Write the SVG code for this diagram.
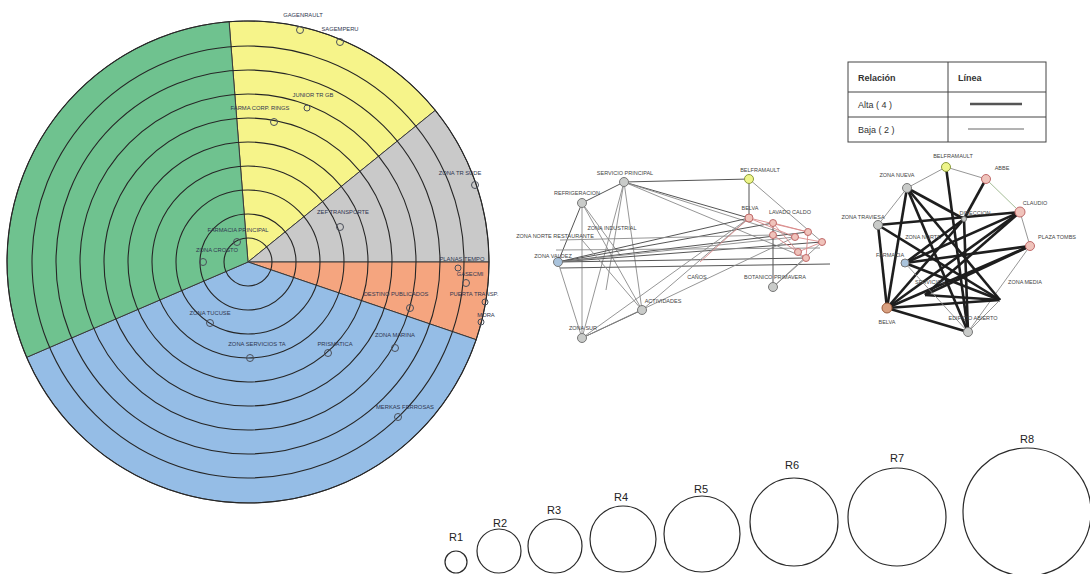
<svg xmlns="http://www.w3.org/2000/svg" width="1090" height="574" viewBox="0 0 1090 574">
<style>
text{font-family:"Liberation Sans",Arial,sans-serif}
.ring{fill:none;stroke:#262626;stroke-width:1.1}
.sl{stroke:#3a3a3a;stroke-width:1}
.pn{fill:none;stroke:#4a4f5a;stroke-width:1}
.pl{font-size:5.8px;fill:#2f3650}
.nl{font-size:5.5px;fill:#444}
.e{stroke:#8a8a8a;stroke-width:0.9;fill:none}
.ed{stroke:#555;stroke-width:1;fill:none}
.ep{stroke:#d98a8a;stroke-width:0.9;fill:none}
.et{stroke:#1e1e1e;stroke-width:2.6;fill:none}
.g{fill:#c9cbc9;stroke:#777;stroke-width:1}
.b{fill:#a9c3dc;stroke:#777;stroke-width:1}
.y{fill:#eef58a;stroke:#8a9a3a;stroke-width:1}
.p{fill:#f0c3bb;stroke:#c06a6a;stroke-width:1}
.o{fill:#d9a080;stroke:#9a5a3a;stroke-width:1}
.rc{fill:none;stroke:#2a2a2a;stroke-width:1.2}
.rl{font-size:11px;fill:#222}
.tb{fill:none;stroke:#444;stroke-width:1}
.tt{font-size:9px;fill:#333}
</style>

<g id="pie">
<path d="M248,262 L229.1,21.7 A241,241 0 0 1 435.3,110.3 Z" fill="#f6f48a" class="sl"/>
<path d="M248,262 L435.3,110.3 A241,241 0 0 1 489,262 Z" fill="#c9c9c9" class="sl"/>
<path d="M248,262 L489,262 A241,241 0 0 1 476.2,339.7 Z" fill="#f5a57f" class="sl"/>
<path d="M248,262 L476.2,339.7 A241,241 0 0 1 26.7,357.3 Z" fill="#95bde6" class="sl"/>
<path d="M248,262 L26.7,357.3 A241,241 0 0 1 229.1,21.7 Z" fill="#6fc28f" class="sl"/>
<circle cx="248" cy="262" r="24" class="ring"/>
<circle cx="248" cy="262" r="48" class="ring"/>
<circle cx="248" cy="262" r="72" class="ring"/>
<circle cx="248" cy="262" r="96" class="ring"/>
<circle cx="248" cy="262" r="120" class="ring"/>
<circle cx="248" cy="262" r="144" class="ring"/>
<circle cx="248" cy="262" r="168" class="ring"/>
<circle cx="248" cy="262" r="192" class="ring"/>
<circle cx="248" cy="262" r="216" class="ring"/>
<circle cx="248" cy="262" r="241" class="ring"/>
</g>

<g id="pie-nodes">
<circle cx="300" cy="30" r="3.5" class="pn"/><text x="303" y="17" class="pl" text-anchor="middle">GAGENRAULT</text>
<circle cx="340" cy="42" r="3.5" class="pn"/><text x="340" y="31" class="pl" text-anchor="middle">SAGEMPERU</text>
<circle cx="307" cy="108" r="3" class="pn"/><text x="313" y="97" class="pl" text-anchor="middle">JUNIOR TR GB</text>
<circle cx="274" cy="122" r="3.5" class="pn"/><text x="260" y="110" class="pl" text-anchor="middle">FARMA CORP. RINGS</text>
<circle cx="475" cy="185" r="3.5" class="pn"/><text x="460" y="175" class="pl" text-anchor="middle">ZONA TR SUDE</text>
<circle cx="340" cy="227" r="3.5" class="pn"/><text x="343" y="214" class="pl" text-anchor="middle">ZEF TRANSPORTE</text>
<circle cx="237" cy="242" r="3.5" class="pn"/><text x="238" y="232" class="pl" text-anchor="middle">FARMACIA PRINCIPAL</text>
<circle cx="203" cy="262" r="3.5" class="pn"/><text x="217" y="252" class="pl" text-anchor="middle">ZONA CROSTO</text>
<circle cx="458" cy="268" r="3" class="pn"/><text x="462" y="261" class="pl" text-anchor="middle">PLANAS TEMPO</text>
<circle cx="466" cy="283" r="3.5" class="pn"/><text x="470" y="276" class="pl" text-anchor="middle">GASECMI</text>
<circle cx="410" cy="308" r="3.5" class="pn"/><text x="396" y="296" class="pl" text-anchor="middle">DESTINO PUBLICADOS</text>
<circle cx="485" cy="302" r="3" class="pn"/><text x="474" y="296" class="pl" text-anchor="middle">PUERTA TRANSP.</text>
<circle cx="481" cy="322" r="3" class="pn"/><text x="486" y="317" class="pl" text-anchor="middle">MORA</text>
<circle cx="210" cy="323" r="3.5" class="pn"/><text x="210" y="315" class="pl" text-anchor="middle">ZONA TUCUSE</text>
<circle cx="250" cy="358" r="3.5" class="pn"/><text x="257" y="346" class="pl" text-anchor="middle">ZONA SERVICIOS TA</text>
<circle cx="328" cy="353" r="3.5" class="pn"/><text x="335" y="346" class="pl" text-anchor="middle">PRISMATICA</text>
<circle cx="395" cy="348" r="3.5" class="pn"/><text x="395" y="337" class="pl" text-anchor="middle">ZONA MARINA</text>
<circle cx="398" cy="417" r="3.5" class="pn"/><text x="405" y="409" class="pl" text-anchor="middle">MERKAS FERROSAS</text>
</g>

<g id="connectors-mid">
<line x1="624" y1="182" x2="749" y2="179" class="ed"/>
<line x1="749" y1="179" x2="749" y2="218" class="ed"/>
<line x1="749" y1="179" x2="822" y2="242" class="e"/>
<line x1="624" y1="182" x2="582" y2="203" class="ed"/>
<line x1="624" y1="182" x2="749" y2="218" class="ed"/>
<line x1="624" y1="182" x2="795" y2="237" class="e"/>
<line x1="624" y1="182" x2="806" y2="258" class="e"/>
<line x1="624" y1="182" x2="642" y2="310" class="e"/>
<line x1="624" y1="182" x2="606" y2="290" class="e"/>
<line x1="624" y1="182" x2="582" y2="338" class="e"/>
<line x1="582" y1="203" x2="558" y2="262" class="ed"/>
<line x1="582" y1="203" x2="582" y2="338" class="e"/>
<line x1="582" y1="203" x2="642" y2="310" class="e"/>
<line x1="582" y1="203" x2="620" y2="255" class="e"/>
<line x1="558" y1="262" x2="749" y2="218" class="ed"/>
<line x1="558" y1="262" x2="773" y2="223" class="ed"/>
<line x1="558" y1="262" x2="808" y2="232" class="ed"/>
<line x1="558" y1="262" x2="822" y2="242" class="ed"/>
<line x1="558" y1="262" x2="806" y2="258" class="ed"/>
<line x1="558" y1="262" x2="795" y2="237" class="e"/>
<line x1="560" y1="268" x2="830" y2="264" class="ed"/>
<line x1="556" y1="250" x2="820" y2="248" class="e"/>
<line x1="560" y1="240" x2="773" y2="235" class="e"/>
<line x1="558" y1="262" x2="582" y2="338" class="e"/>
<line x1="582" y1="338" x2="642" y2="310" class="ed"/>
<line x1="582" y1="338" x2="749" y2="218" class="e"/>
<line x1="582" y1="338" x2="795" y2="237" class="e"/>
<line x1="642" y1="310" x2="749" y2="218" class="e"/>
<line x1="642" y1="310" x2="582" y2="240" class="e"/>
<line x1="773" y1="287" x2="773" y2="223" class="ed"/>
<line x1="773" y1="287" x2="822" y2="242" class="e"/>
<line x1="773" y1="287" x2="806" y2="258" class="e"/>
<line x1="700" y1="262" x2="749" y2="218" class="ep"/>
<line x1="749" y1="218" x2="795" y2="237" class="ep"/>
<line x1="773" y1="223" x2="808" y2="232" class="ep"/>
<line x1="773" y1="223" x2="798" y2="252" class="ep"/>
<line x1="795" y1="237" x2="822" y2="242" class="ep"/>
<line x1="808" y1="232" x2="806" y2="258" class="ep"/>
<line x1="798" y1="252" x2="822" y2="242" class="ep"/>
<line x1="773" y1="235" x2="806" y2="258" class="ep"/>
<line x1="749" y1="218" x2="808" y2="232" class="ep"/>
</g>

<g id="nodes-mid">
<circle cx="624" cy="182" r="4.5" class="g"/><text x="625" y="175" class="nl" text-anchor="middle">SERVICIO PRINCIPAL</text>
<circle cx="749" cy="179" r="4.5" class="y"/><text x="760" y="172" class="nl" text-anchor="middle">BELFRAMAULT</text>
<circle cx="582" cy="203" r="4.5" class="g"/><text x="577" y="195" class="nl" text-anchor="middle">REFRIGERACION</text>
<circle cx="749" cy="218" r="4" class="p"/><text x="750" y="210" class="nl" text-anchor="middle">BELVA</text>
<circle cx="773" cy="223" r="3.5" class="p"/><text x="790" y="214" class="nl" text-anchor="middle">LAVADO  CALDO</text>
<circle cx="773" cy="235" r="3.5" class="p"/>
<circle cx="795" cy="237" r="3.5" class="p"/>
<circle cx="808" cy="232" r="3.5" class="p"/>
<circle cx="822" cy="242" r="3.5" class="p"/>
<circle cx="798" cy="252" r="3.5" class="p"/>
<circle cx="806" cy="258" r="3.5" class="p"/>
<circle cx="558" cy="262" r="4.5" class="b"/><text x="553" y="258" class="nl" text-anchor="middle">ZONA VALDEZ</text>
<text x="555" y="238" class="nl" text-anchor="middle">ZONA NORTE RESTAURANTE</text>
<text x="612" y="230" class="nl" text-anchor="middle">ZONA INDUSTRIAL</text>
<circle cx="642" cy="310" r="4.5" class="g"/><text x="663" y="303" class="nl" text-anchor="middle">ACTIVIDADES</text>
<circle cx="582" cy="338" r="4.5" class="g"/><text x="583" y="330" class="nl" text-anchor="middle">ZONA SUR</text>
<circle cx="773" cy="287" r="4.5" class="g"/><text x="775" y="279" class="nl" text-anchor="middle">BOTANICO PRIMAVERA</text>
<text x="697" y="279" class="nl" text-anchor="middle">CAÑOS</text>
</g>

<g id="connectors-right">
<line x1="946" y1="167" x2="986" y2="179" class="e"/>
<line x1="986" y1="179" x2="1020" y2="212" class="e" style="stroke:#9ab68a"/>
<line x1="1020" y1="212" x2="1030" y2="246" class="e"/>
<line x1="1030" y1="246" x2="968" y2="332" class="e"/>
<line x1="907" y1="188" x2="878" y2="225" class="e"/>
<line x1="907" y1="188" x2="946" y2="167" class="e"/>
<line x1="946" y1="167" x2="968" y2="332" class="et"/>
<line x1="907" y1="188" x2="964" y2="219" class="et"/>
<line x1="907" y1="188" x2="887" y2="308" class="et"/>
<line x1="907" y1="188" x2="968" y2="332" class="et"/>
<line x1="907" y1="188" x2="1000" y2="300" class="et"/>
<line x1="878" y1="225" x2="887" y2="308" class="et"/>
<line x1="878" y1="225" x2="1020" y2="212" class="et"/>
<line x1="878" y1="225" x2="1000" y2="300" class="et"/>
<line x1="986" y1="179" x2="964" y2="219" class="et"/>
<line x1="964" y1="219" x2="905" y2="263" class="et"/>
<line x1="964" y1="219" x2="968" y2="332" class="et"/>
<line x1="1020" y1="212" x2="887" y2="308" class="et"/>
<line x1="1020" y1="212" x2="905" y2="263" class="et"/>
<line x1="1020" y1="212" x2="925" y2="295" class="et"/>
<line x1="1030" y1="246" x2="887" y2="308" class="et"/>
<line x1="1030" y1="246" x2="905" y2="263" class="et"/>
<line x1="1030" y1="246" x2="925" y2="295" class="et"/>
<line x1="887" y1="308" x2="968" y2="332" class="et"/>
<line x1="887" y1="308" x2="1000" y2="300" class="et"/>
<line x1="905" y1="263" x2="1000" y2="300" class="et"/>
<line x1="887" y1="308" x2="964" y2="219" class="et"/>
<line x1="925" y1="295" x2="1000" y2="300" class="et"/>
<line x1="905" y1="263" x2="968" y2="332" class="e"/>
<line x1="1000" y1="300" x2="968" y2="332" class="e"/>
</g>

<g id="nodes-right">
<circle cx="946" cy="167" r="4.5" class="y"/><text x="953" y="158" class="nl" text-anchor="middle">BELFRAMAULT</text>
<circle cx="986" cy="179" r="4.5" class="p"/><text x="1002" y="170" class="nl" text-anchor="middle">ABBE</text>
<circle cx="907" cy="188" r="4.5" class="g"/><text x="897" y="177" class="nl" text-anchor="middle">ZONA NUEVA</text>
<circle cx="1020" cy="212" r="5" class="p"/><text x="1035" y="205" class="nl" text-anchor="middle">CLAUDIO</text>
<circle cx="964" cy="219" r="2.5" class="g"/><text x="975" y="215" class="nl" text-anchor="middle">DIRECCION</text>
<circle cx="878" cy="225" r="4.5" class="g"/><text x="863" y="219" class="nl" text-anchor="middle">ZONA TRAVIESA</text>
<circle cx="1030" cy="246" r="4.5" class="p"/><text x="1057" y="239" class="nl" text-anchor="middle">PLAZA TOMBS</text>
<circle cx="905" cy="263" r="4" class="b"/>
<text x="923" y="239" class="nl" text-anchor="middle">ZONA NORTE</text>
<text x="890" y="257" class="nl" text-anchor="middle">FARMACIA</text>
<text x="930" y="284" class="nl" text-anchor="middle">SERVICIOS</text>
<text x="1025" y="284" class="nl" text-anchor="middle">ZONA MEDIA</text>
<circle cx="887" cy="308" r="5" class="o"/><text x="887" y="324" class="nl" text-anchor="middle">BELVA</text>
<circle cx="968" cy="332" r="4.5" class="g"/><text x="973" y="320" class="nl" text-anchor="middle">EDIFICIO ABIERTO</text>
</g>

<g id="legend">
<rect x="848" y="62" width="198" height="80" class="tb"/>
<line x1="848" y1="92" x2="1046" y2="92" class="tb"/>
<line x1="848" y1="117" x2="1046" y2="117" class="tb"/>
<line x1="948" y1="62" x2="948" y2="142" class="tb"/>
<text x="858" y="81" class="tt" font-weight="bold">Relación</text>
<text x="958" y="81" class="tt" font-weight="bold">Línea</text>
<text x="858" y="108" class="tt">Alta ( 4 )</text>
<text x="858" y="133" class="tt">Baja ( 2 )</text>
<line x1="970" y1="104" x2="1022" y2="104" stroke="#555" stroke-width="2.6"/>
<line x1="968" y1="129" x2="1024" y2="129" stroke="#666" stroke-width="1"/>
</g>

<g id="rings-legend">
<circle cx="456" cy="562" r="11" class="rc"/><text x="456" y="541" class="rl" text-anchor="middle">R1</text>
<circle cx="499" cy="551" r="22" class="rc"/><text x="500" y="527" class="rl" text-anchor="middle">R2</text>
<circle cx="555" cy="546" r="27" class="rc"/><text x="554" y="514" class="rl" text-anchor="middle">R3</text>
<circle cx="623" cy="539" r="33" class="rc"/><text x="621" y="501" class="rl" text-anchor="middle">R4</text>
<circle cx="702" cy="534" r="38" class="rc"/><text x="701" y="493" class="rl" text-anchor="middle">R5</text>
<circle cx="794" cy="522" r="44" class="rc"/><text x="792" y="469" class="rl" text-anchor="middle">R6</text>
<circle cx="897" cy="517" r="49" class="rc"/><text x="897" y="462" class="rl" text-anchor="middle">R7</text>
<circle cx="1027" cy="512" r="64" class="rc"/><text x="1027" y="443" class="rl" text-anchor="middle">R8</text>
</g>
</svg>
